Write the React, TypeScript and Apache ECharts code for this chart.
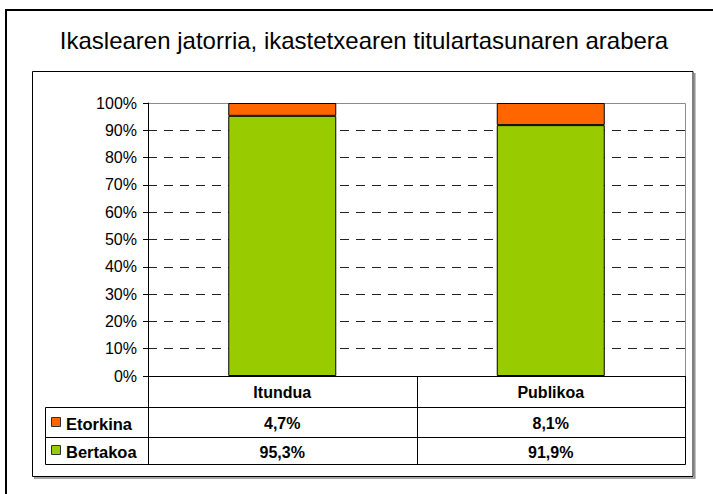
import React, { useEffect, useRef } from "react";
import * as echarts from "echarts";

const titleText = "Ikaslearen jatorria, ikastetxearen titulartasunaren arabera";
const categories = ["Itundua", "Publikoa"];
const seriesNames = ["Etorkina", "Bertakoa"];
const etorkina = [4.7, 8.1];
const bertakoa = [95.3, 91.9];
const yMin = 0;
const yMax = 100;
const yStep = 10;

const FONT = "'Liberation Sans', Arial, Helvetica, sans-serif";
const ORANGE = "#FF6600";
const GREEN = "#99CC00";

const W = 713;
const H = 494;
const GRID_L = 148;
const GRID_R = 685;
const GRID_T = 103;
const GRID_B = 376;
const TABLE_L = 45.5;
const ROW1 = 407.5;
const ROW2 = 437.5;
const ROW3 = 464.5;

const fmt = (v: number) => v.toFixed(1).replace(".", ",") + "%";

export default function App() {
  const ref = useRef<HTMLDivElement>(null);
  useEffect(() => {
    if (!ref.current) return;
    const chart = echarts.init(ref.current, null, { renderer: "svg" });
    const colW = (GRID_R - GRID_L) / categories.length;
    const colCenter = (i: number) => GRID_L + colW * (i + 0.5);

    const graphics: any[] = [];
    // outer border
    graphics.push({
      type: "rect",
      shape: { x: 6, y: 10, width: 740, height: 520 },
      style: { fill: "none", stroke: "#000", lineWidth: 2 },
      silent: true,
    });
    // inner border shadow
    graphics.push({
      type: "polyline",
      shape: { points: [[34, 478], [694.8, 478], [694.8, 73]] },
      style: { fill: "none", stroke: "#888", lineWidth: 1.4 },
      silent: true,
    });
    graphics.push({
      type: "rect",
      shape: { x: 32.5, y: 71.5, width: 660.5, height: 405 },
      style: { fill: "none", stroke: "#000", lineWidth: 1 },
      silent: true,
    });
    // plot area top & right border (grey)
    graphics.push({
      type: "polyline",
      shape: { points: [[GRID_L, GRID_T + 0.5], [GRID_R + 0.5, GRID_T + 0.5], [GRID_R + 0.5, GRID_B]] },
      style: { fill: "none", stroke: "#8c8c8c", lineWidth: 1 },
      silent: true,
      z: -1,
    });
    // table lines
    const hl = (y: number, x1: number, x2: number) =>
      graphics.push({
        type: "line",
        shape: { x1, y1: y, x2, y2: y },
        style: { stroke: "#000", lineWidth: 1 },
        silent: true,
      });
    const vl = (x: number, y1: number, y2: number) =>
      graphics.push({
        type: "line",
        shape: { x1: x, y1, x2: x, y2 },
        style: { stroke: "#000", lineWidth: 1 },
        silent: true,
      });
    hl(ROW1, TABLE_L, GRID_R + 0.5);
    hl(ROW2, TABLE_L, GRID_R + 0.5);
    hl(ROW3, TABLE_L, GRID_R + 0.5);
    vl(TABLE_L, ROW1, ROW3);
    for (let i = 0; i <= categories.length; i++) {
      vl(Math.round(GRID_L + colW * i) + 0.5, GRID_B, ROW3);
    }
    // header texts
    categories.forEach((c, i) => {
      graphics.push({
        type: "text",
        style: {
          text: c,
          x: colCenter(i),
          y: (GRID_B + ROW1) / 2 + 1,
          align: "center",
          verticalAlign: "middle",
          fontFamily: FONT,
          fontSize: 16,
          fontWeight: "bold",
          fill: "#000",
        },
        silent: true,
      });
    });
    const rows = [
      { name: seriesNames[0], color: ORANGE, data: etorkina, y: (ROW1 + ROW2) / 2 },
      { name: seriesNames[1], color: GREEN, data: bertakoa, y: (ROW2 + ROW3) / 2 },
    ];
    rows.forEach((r) => {
      graphics.push({
        type: "rect",
        shape: { x: 51.5, y: Math.round(r.y - 5) - 0.5, width: 9, height: 9 },
        style: { fill: r.color, stroke: "#333", lineWidth: 1 },
        silent: true,
      });
      graphics.push({
        type: "text",
        style: {
          text: r.name,
          x: 66,
          y: r.y + 1,
          align: "left",
          verticalAlign: "middle",
          fontFamily: FONT,
          fontSize: 16.5,
          fontWeight: "bold",
          fill: "#000",
        },
        silent: true,
      });
      r.data.forEach((v, i) => {
        graphics.push({
          type: "text",
          style: {
            text: fmt(v),
            x: colCenter(i),
            y: r.y + 1,
            align: "center",
            verticalAlign: "middle",
            fontFamily: FONT,
            fontSize: 16,
            fontWeight: "bold",
            fill: "#000",
          },
          silent: true,
        });
      });
    });
    // title
    graphics.push({
      type: "text",
      style: {
        text: titleText,
        x: 364,
        y: 40,
        align: "center",
        verticalAlign: "middle",
        fontFamily: FONT,
        fontSize: 24,
        fill: "#000",
      },
      silent: true,
    });

    chart.setOption({
      animation: false,
      backgroundColor: "#fff",
      grid: {
        left: GRID_L,
        right: W - GRID_R,
        top: GRID_T,
        bottom: H - GRID_B,
        containLabel: false,
      },
      xAxis: {
        type: "category",
        data: categories,
        axisLabel: { show: false },
        axisTick: { show: false },
        axisLine: { show: true, lineStyle: { color: "#000", width: 1 } },
        splitLine: { show: false },
      },
      yAxis: {
        type: "value",
        min: yMin,
        max: yMax,
        interval: yStep,
        axisLine: { show: true, lineStyle: { color: "#000", width: 1 } },
        axisTick: { show: true, length: 5, inside: false, lineStyle: { color: "#000" } },
        axisLabel: {
          formatter: "{value}%",
          fontFamily: FONT,
          fontSize: 16,
          color: "#000",
          margin: 11,
        },
        splitLine: {
          show: true,
          showMinLine: false,
          showMaxLine: false,
          lineStyle: { type: [9, 7], color: "#222", width: 1 },
        },
      },
      series: [
        {
          name: seriesNames[1],
          type: "bar",
          stack: "total",
          data: bertakoa,
          barWidth: 108,
          itemStyle: { color: GREEN, borderColor: "#000", borderWidth: 1 },
        },
        {
          name: seriesNames[0],
          type: "bar",
          stack: "total",
          data: etorkina,
          barWidth: 108,
          itemStyle: { color: ORANGE, borderColor: "#000", borderWidth: 1 },
        },
      ],
      graphic: { elements: graphics },
    });
    return () => chart.dispose();
  }, []);
  return (
    <div
      ref={ref}
      style={{ position: "absolute", left: 0, top: 0, width: W, height: H }}
    />
  );
}
